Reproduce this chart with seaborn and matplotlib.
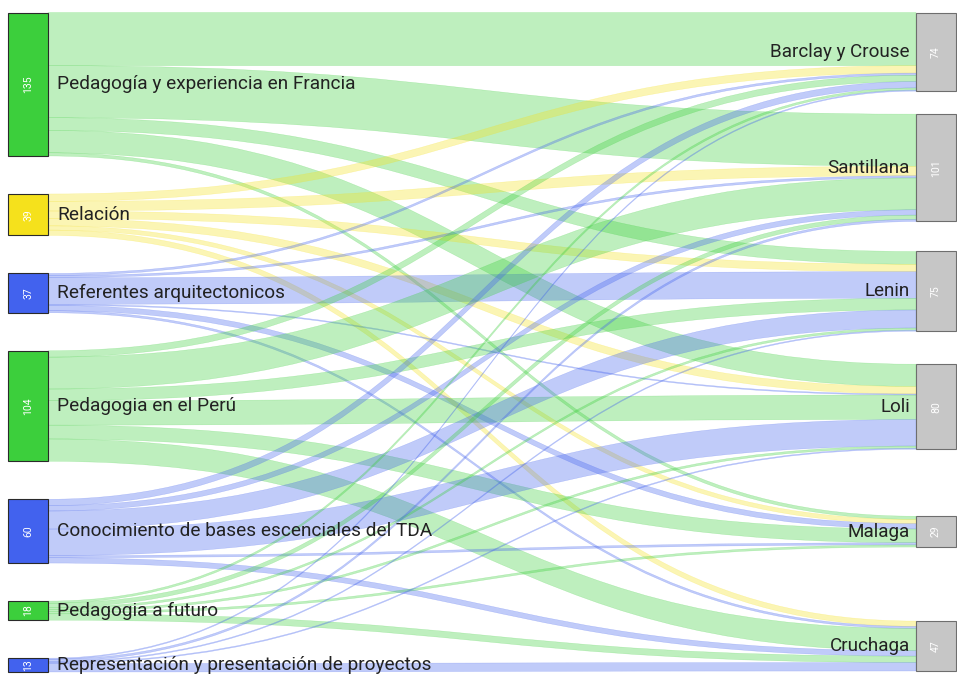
import numpy as np
import matplotlib.pyplot as plt
from matplotlib.path import Path
from matplotlib.patches import PathPatch, Rectangle
import seaborn as sns

# source nodes (left column), top to bottom
sources = [
    "Pedagogía y experiencia en Francia",
    "Relación",
    "Referentes arquitectonicos",
    "Pedagogia en el Perú",
    "Conocimiento de bases escenciales del TDA",
    "Pedagogia a futuro",
    "Representación y presentación de proyectos",
]
source_colors = ["#3ccf3c", "#f5e11c", "#4262ee", "#3ccf3c", "#4262ee", "#3ccf3c", "#4262ee"]

# target nodes (right column), top to bottom
targets = ["Barclay y Crouse", "Santillana", "Lenin", "Loli", "Malaga", "Cruchaga"]

# flows[source][target]
flows = [
    [50, 49, 12, 21, 3, 0],
    [7, 9, 7, 7, 4, 5],
    [2, 2, 25, 1, 5, 2],
    [6, 30, 11, 23, 13, 21],
    [6, 5, 17, 25, 2, 5],
    [2, 4, 2, 2, 2, 6],
    [1, 2, 1, 1, 0, 8],
]

sns.set_theme(style="white")
plt.rcParams["font.family"] = ["Roboto", "DejaVu Sans"]

flows = np.array(flows, dtype=float)
src_tot = flows.sum(axis=1)
tgt_tot = flows.sum(axis=0)

# layout (pixel space)
W, H = 957, 678
TOP, BOTTOM = 12.5, 672
NODE_W = 40
XL, XR = 8, 916
GAP_L = 38
k = (BOTTOM - TOP - GAP_L * (len(sources) - 1)) / src_tot.sum()
right_gap_w = np.array([23, 30, 33, 67, 74], dtype=float)
right_gaps = right_gap_w / right_gap_w.sum() * (BOTTOM - 1 - TOP - k * tgt_tot.sum())

src_y = []
y = TOP
for v in src_tot:
    src_y.append(y)
    y += v * k + GAP_L
tgt_y = []
y = TOP
for i, v in enumerate(tgt_tot):
    tgt_y.append(y)
    y += v * k + (right_gaps[i] if i < len(right_gaps) else 0)

fig = plt.figure(figsize=(W / 100, H / 100), dpi=100)
ax = fig.add_axes([0, 0, 1, 1])
ax.set_xlim(0, W)
ax.set_ylim(H, 0)
ax.axis("off")

# links: stacked at source by target order, at target by source order
x0, x1 = XL + NODE_W, XR
xm = (x0 + x1) / 2
s_pos = np.zeros_like(flows)
t_pos = np.zeros_like(flows)
for i in range(len(sources)):
    cur = src_y[i]
    for j in range(len(targets)):
        s_pos[i, j] = cur
        cur += flows[i, j] * k
for j in range(len(targets)):
    cur = tgt_y[j]
    for i in range(len(sources)):
        t_pos[i, j] = cur
        cur += flows[i, j] * k

for i in range(len(sources)):
    for j in range(len(targets)):
        v = flows[i, j]
        if v <= 0:
            continue
        h = v * k
        a0, b0 = s_pos[i, j], t_pos[i, j]
        verts = [
            (x0, a0), (xm, a0), (xm, b0), (x1, b0),
            (x1, b0 + h),
            (xm, b0 + h), (xm, a0 + h), (x0, a0 + h),
            (x0, a0),
        ]
        codes = [Path.MOVETO, Path.CURVE4, Path.CURVE4, Path.CURVE4,
                 Path.LINETO,
                 Path.CURVE4, Path.CURVE4, Path.CURVE4,
                 Path.CLOSEPOLY]
        ax.add_patch(PathPatch(Path(verts, codes), facecolor=source_colors[i],
                               edgecolor=source_colors[i], lw=0.3, alpha=0.33, zorder=1))

# nodes
for i, name in enumerate(sources):
    h = src_tot[i] * k
    ax.add_patch(Rectangle((XL, src_y[i]), NODE_W, h, facecolor=source_colors[i],
                           edgecolor="#2a2a2a", lw=0.8, zorder=3))
    ax.text(XL + NODE_W / 2, src_y[i] + h / 2, f"{int(src_tot[i])}", rotation=90,
            ha="center", va="center", color="white", fontsize=7.5, zorder=4)
    ax.text(XL + NODE_W + 9, src_y[i] + h / 2, name, ha="left", va="center",
            fontsize=13.7, color="#222222", zorder=4)

for j, name in enumerate(targets):
    h = tgt_tot[j] * k
    ax.add_patch(Rectangle((XR, tgt_y[j]), NODE_W, h, facecolor="#c6c6c6",
                           edgecolor="#6e6e6e", lw=0.8, zorder=3))
    ax.text(XR + NODE_W / 2, tgt_y[j] + h / 2, f"{int(tgt_tot[j])}", rotation=90,
            ha="center", va="center", color="white", fontsize=7.5, zorder=4)
    ax.text(XR - 6, tgt_y[j] + h / 2, name, ha="right", va="center",
            fontsize=13.6, color="#222222", zorder=4)

fig.savefig("out.png", dpi=100, facecolor="white")
